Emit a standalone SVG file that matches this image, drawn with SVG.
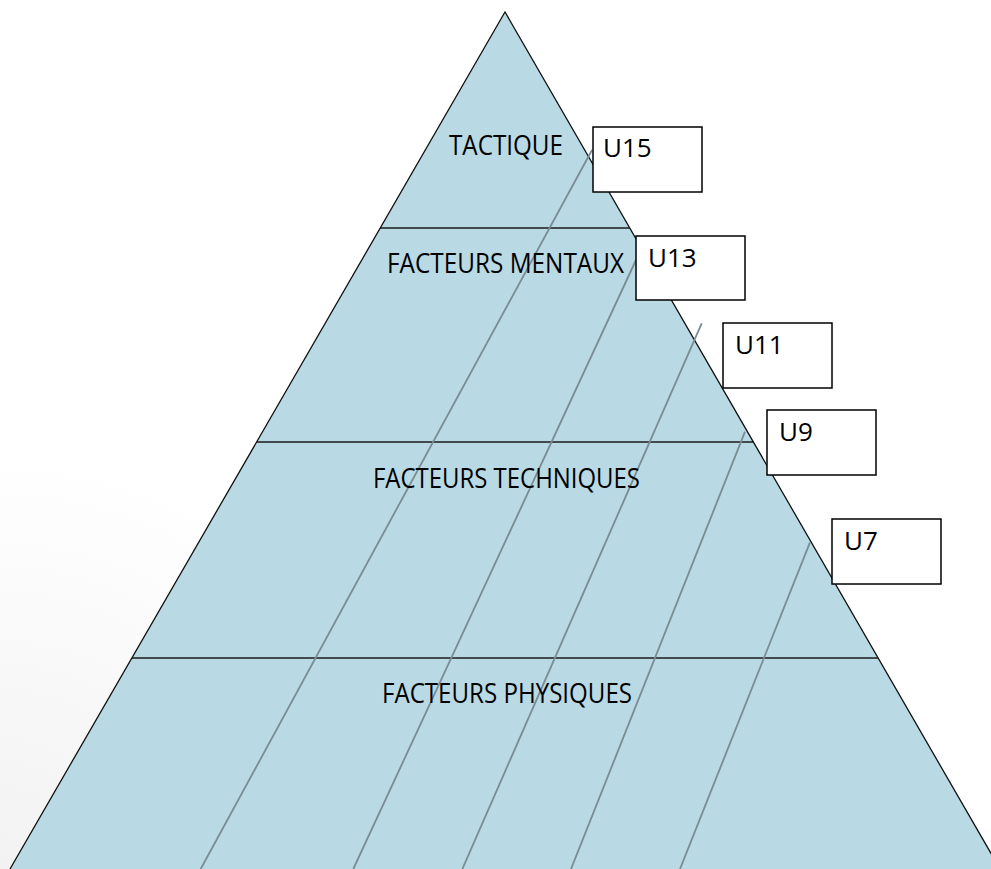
<svg xmlns="http://www.w3.org/2000/svg" width="991" height="869" viewBox="0 0 991 869">
  <defs>
    <radialGradient id="bg" cx="0" cy="869" r="420" gradientUnits="userSpaceOnUse">
      <stop offset="0" stop-color="#f2f2f2"/>
      <stop offset="1" stop-color="#ffffff"/>
    </radialGradient>
    <style>
      .edge { fill: none; stroke: #111; stroke-width: 1.3; }
      .band { stroke: #1a1a1a; stroke-width: 1.3; }
      .diag { stroke: #7a8b92; stroke-width: 1.8; fill: none; }
      .lbl { font-family: "Open Sans", "DejaVu Sans", sans-serif; font-size: 27px; fill: #000; text-anchor: start; }
      .box { fill: #fff; stroke: #000; stroke-width: 1.5; }
      .btxt { font-family: "Open Sans", "DejaVu Sans", sans-serif; font-size: 26px; fill: #000; }
    </style>
  </defs>
  <rect x="0" y="0" width="991" height="869" fill="url(#bg)"/>

  <g id="pyramid">
    <polygon points="505,12 1000,869 10,869" fill="#b9dae5"/>
    <polyline class="edge" points="10,869 505,12 1000,869"/>
  </g>

  <g id="connectors">
    <line class="band" x1="380" y1="228" x2="630" y2="228"/>
    <line class="band" x1="257" y1="442" x2="753" y2="442"/>
    <line class="band" x1="132" y1="658" x2="878" y2="658"/>
    <line class="diag" x1="200.7" y1="869" x2="592" y2="150"/>
    <line class="diag" x1="353.3" y1="869" x2="636" y2="260"/>
    <line class="diag" x1="462.3" y1="869" x2="701.7" y2="323.3"/>
    <line class="diag" x1="571" y1="869" x2="745" y2="431.7"/>
    <line class="diag" x1="680" y1="869" x2="810" y2="542.3"/>
  </g>

  <g id="level-tactique">
    <text class="lbl" x="449" y="155" textLength="114" lengthAdjust="spacingAndGlyphs">TACTIQUE</text>
  </g>
  <g id="level-mentaux">
    <text class="lbl" x="387" y="273" textLength="237" lengthAdjust="spacingAndGlyphs">FACTEURS MENTAUX</text>
  </g>
  <g id="level-techniques">
    <text class="lbl" x="373" y="488" textLength="267" lengthAdjust="spacingAndGlyphs">FACTEURS TECHNIQUES</text>
  </g>
  <g id="level-physiques">
    <text class="lbl" x="382" y="703" textLength="250" lengthAdjust="spacingAndGlyphs">FACTEURS PHYSIQUES</text>
  </g>

  <g id="U15">
    <rect class="box" x="593" y="127" width="109" height="65"/>
    <text class="btxt" x="603" y="157">U15</text>
  </g>
  <g id="U13">
    <rect class="box" x="636" y="236" width="109" height="64"/>
    <text class="btxt" x="648" y="267">U13</text>
  </g>
  <g id="U11">
    <rect class="box" x="723" y="323" width="109" height="65"/>
    <text class="btxt" x="735" y="354">U11</text>
  </g>
  <g id="U9">
    <rect class="box" x="767" y="410" width="109" height="65"/>
    <text class="btxt" x="779" y="441">U9</text>
  </g>
  <g id="U7">
    <rect class="box" x="832" y="519" width="109" height="65"/>
    <text class="btxt" x="844" y="550">U7</text>
  </g>
</svg>
